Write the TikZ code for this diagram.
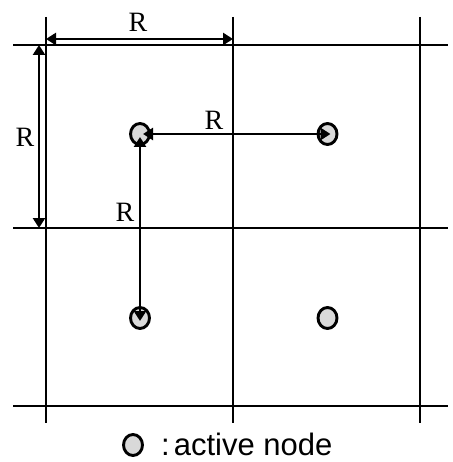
\documentclass[tikz,border=0pt]{standalone}
\usepackage{fontspec}
\setmainfont{Liberation Serif}
\newfontfamily\legendfont{Liberation Sans}
\usetikzlibrary{arrows.meta,shapes.geometric}
\tikzset{
  gridline/.style={line width=2.9pt},
  dimarrow/.style={line width=2.7pt,{Triangle[length=10pt,width=12pt]}-{Triangle[length=10pt,width=12pt]}},
  activenode/.style={ellipse,draw,line width=2.9pt,fill=black!15,minimum width=19pt,minimum height=21pt,inner sep=0pt},
  lab/.style={font=\fontsize{28}{33}\selectfont,inner sep=0pt}
}
\begin{document}
\begin{tikzpicture}[x=1pt,y=-1pt]
\useasboundingbox (0,0) rectangle (452,462);
% grid
\foreach \x in {46,233,420} \draw[gridline] (\x,17) -- (\x,423);
\foreach \y in {45,228,406} \draw[gridline] (13,\y) -- (448,\y);
% active nodes
\node[activenode] (a) at (140,134) {};
\node[activenode] (b) at (327.5,134) {};
\node[activenode] (c) at (140,318) {};
\node[activenode] (d) at (327.5,318) {};
% dimension arrows
\coordinate (t1) at (46,39);
\coordinate (t2) at (233,39);
\coordinate (s1) at (39,45);
\coordinate (s2) at (39,228);
\draw[dimarrow] (t1) -- (t2);
\draw[dimarrow] (s1) -- (s2);
\draw[dimarrow,shorten <=3pt,shorten >=-3pt] (a.center) -- (b.center);
\draw[dimarrow,shorten <=3pt,shorten >=-3pt] (a.center) -- (c.center);
% labels
\node[lab] (l1) at (138,22) {R};
\node[lab] (l2) at (25,137) {R};
\node[lab] (l3) at (214,120) {R};
\node[lab] (l4) at (125,212) {R};
% legend
\node[activenode] (leg) at (133,445) {};
\node[anchor=base west,inner sep=0pt,font=\legendfont\fontsize{31}{36}\selectfont] (legtext) at (161,455) {:\kern4pt active node};
\end{tikzpicture}
\end{document}
